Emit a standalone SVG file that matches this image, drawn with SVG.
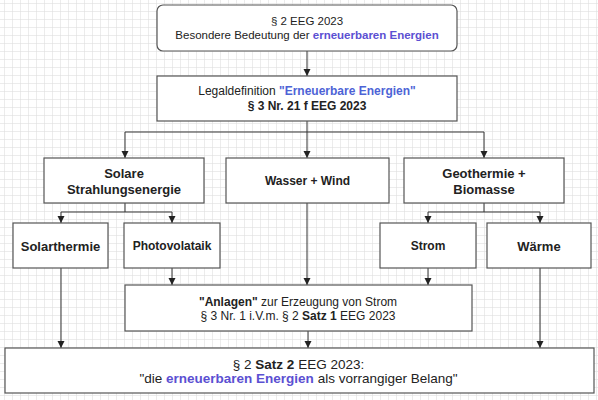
<svg xmlns="http://www.w3.org/2000/svg" width="598" height="400" viewBox="0 0 598 400">
<defs>
<pattern id="grid" x="4" y="3" width="8" height="8" patternUnits="userSpaceOnUse">
<path d="M0 0H8M0 0V8" fill="none" stroke="#dadada" stroke-width="1"/>
</pattern>
<marker id="arr" viewBox="0 0 8 8" refX="8" refY="4" markerWidth="7" markerHeight="8" markerUnits="userSpaceOnUse" orient="auto">
<path d="M0 0L8 4L0 8Z" fill="#222"/>
</marker>
<style>
.box{fill:#fff;stroke:#555;stroke-width:1.2}
.t{font-family:"Liberation Sans",Arial,sans-serif;fill:#222;text-anchor:middle}
.b{font-weight:bold}
.blue{fill:#5b50d2;font-weight:bold}
.blue2{fill:#4d63d6;font-weight:bold}
.c{fill:none;stroke:#333;stroke-width:1}
.ca{fill:none;stroke:#333;stroke-width:1;marker-end:url(#arr)}
</style>
</defs>
<rect width="598" height="400" fill="#fff"/>
<rect width="598" height="400" fill="url(#grid)"/>

<g id="connectors">
<path class="ca" d="M307 51V76"/>
<path class="c" d="M307 121V132M125 132H484"/>
<path class="ca" d="M125 132V158"/>
<path class="ca" d="M307 132V158"/>
<path class="ca" d="M484 132V158"/>
<path class="c" d="M125 203V212M61 212H172"/>
<path class="ca" d="M61 212V223"/>
<path class="ca" d="M172 212V223"/>
<path class="c" d="M484 203V212M428 212H540"/>
<path class="ca" d="M428 212V223"/>
<path class="ca" d="M540 212V223"/>
<path class="ca" d="M61 268V348"/>
<path class="ca" d="M172 268V285"/>
<path class="ca" d="M307 203V285"/>
<path class="ca" d="M428 268V285"/>
<path class="ca" d="M540 268V348"/>
<path class="ca" d="M308 331V348"/>
</g>

<g id="n-top">
<rect class="box" x="157" y="5" width="300" height="46" rx="6"/>
<text class="t" x="307" y="25" font-size="11.5">§ 2 EEG 2023</text>
<text class="t" x="307" y="38.5" font-size="11.5">Besondere Bedeutung der <tspan class="blue">erneuerbaren Energien</tspan></text>
</g>

<g id="n-legal">
<rect class="box" x="157" y="76" width="300" height="45"/>
<text class="t" x="307" y="95" font-size="12">Legaldefinition <tspan class="blue2">"Erneuerbare Energien"</tspan></text>
<text class="t b" x="307" y="110" font-size="12">§ 3 Nr. 21 f EEG 2023</text>
</g>

<g id="n-solar">
<rect class="box" x="44" y="158" width="160" height="45"/>
<text class="t b" x="124" y="177.5" font-size="13">Solare</text>
<text class="t b" x="124" y="193.5" font-size="13">Strahlungsenergie</text>
</g>

<g id="n-wasser">
<rect class="box" x="226" y="158" width="163" height="45"/>
<text class="t b" x="307.5" y="185" font-size="12">Wasser + Wind</text>
</g>

<g id="n-geo">
<rect class="box" x="404" y="158" width="160" height="45"/>
<text class="t b" x="484" y="177.5" font-size="13">Geothermie +</text>
<text class="t b" x="484" y="193.5" font-size="13">Biomasse</text>
</g>

<g id="n-solarthermie">
<rect class="box" x="13" y="223" width="95" height="45"/>
<text class="t b" x="60.5" y="250.5" font-size="13">Solarthermie</text>
</g>

<g id="n-photo">
<rect class="box" x="124" y="223" width="96" height="45"/>
<text class="t b" x="172" y="250" font-size="12">Photovolataik</text>
</g>

<g id="n-strom">
<rect class="box" x="380" y="223" width="96" height="45"/>
<text class="t b" x="428" y="250" font-size="12">Strom</text>
</g>

<g id="n-waerme">
<rect class="box" x="487" y="223" width="104" height="45"/>
<text class="t b" x="539" y="250.5" font-size="13">Wärme</text>
</g>

<g id="n-anlagen">
<rect class="box" x="125" y="285" width="347" height="46"/>
<text class="t" x="298" y="306" font-size="12"><tspan class="b">"Anlagen"</tspan> zur Erzeugung von Strom</text>
<text class="t" x="298" y="319.5" font-size="12">§ 3 Nr. 1 i.V.m. § 2 <tspan class="b">Satz 1</tspan> EEG 2023</text>
</g>

<g id="n-bottom">
<rect class="box" x="5" y="348" width="589" height="45"/>
<text class="t" x="298.5" y="369" font-size="13.5">§ 2 <tspan class="b">Satz 2</tspan> EEG 2023:</text>
<text class="t" x="298.5" y="383" font-size="13.5">"die <tspan class="blue">erneuerbaren Energien</tspan> als vorrangiger Belang"</text>
</g>
</svg>
